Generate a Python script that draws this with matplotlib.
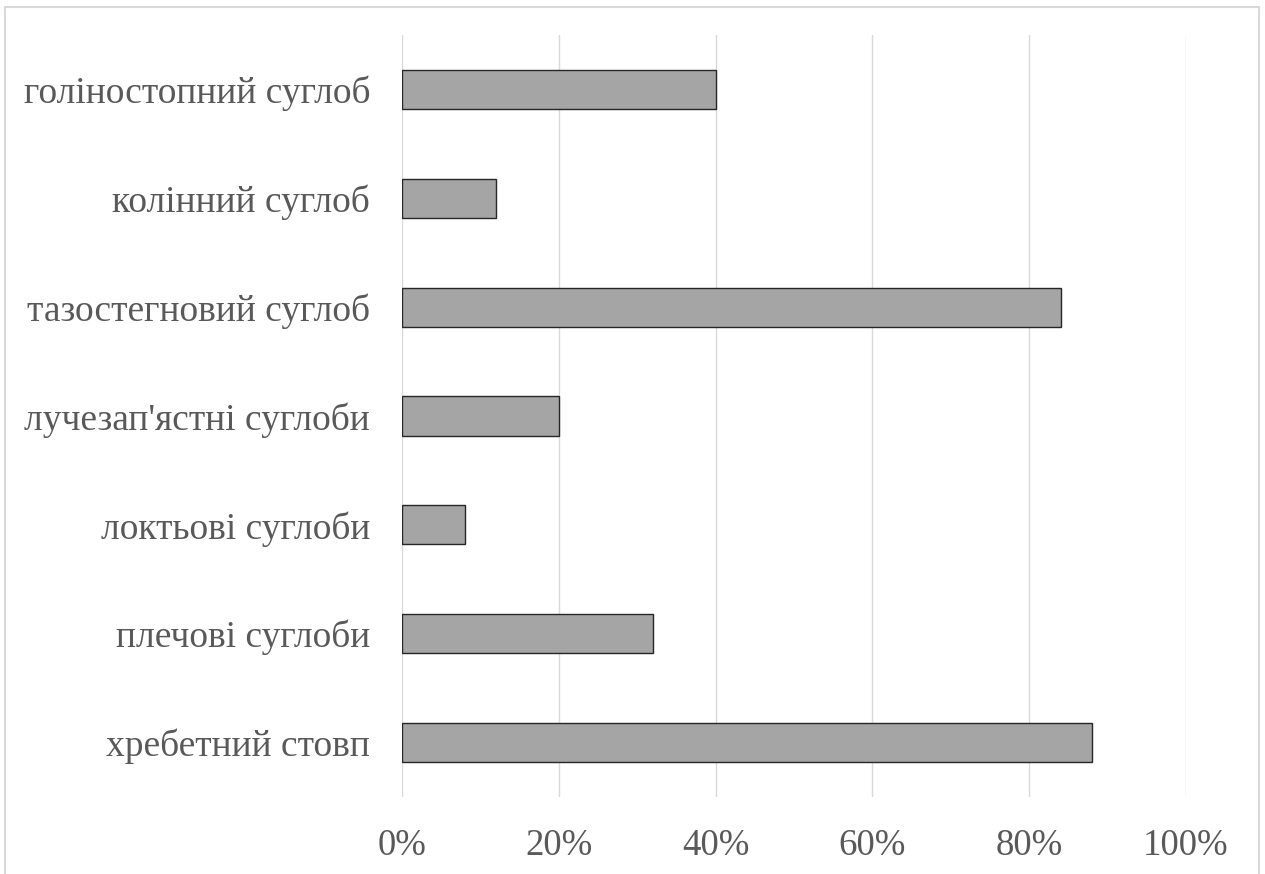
import matplotlib
matplotlib.use("Agg")
import matplotlib.pyplot as plt
from matplotlib.patches import Rectangle
from matplotlib.ticker import FuncFormatter

categories = ["хребетний стовп", "плечові суглоби", "локтьові суглоби",
              "лучезап'ястні суглоби", "тазостегновий суглоб",
              "колінний суглоб", "голіностопний суглоб"]
values = [88, 32, 8, 20, 84, 12, 40]
xticks = [0, 20, 40, 60, 80, 100]

plt.rcParams['font.family'] = ['Liberation Serif', 'DejaVu Serif']

W, H = 1265, 874
fig = plt.figure(figsize=(W / 100, H / 100), dpi=100)
ax = fig.add_axes([402 / W, (H - 797) / H, (1186 - 402) / W, (797 - 35) / H])

ax.barh(range(len(categories)), values, height=0.36, color='#a5a5a5',
        edgecolor='#262626', linewidth=1.0, zorder=3)
ax.set_xlim(0, 100)
ax.set_ylim(-0.5, len(categories) - 0.5)
ax.set_xticks(xticks)
ax.xaxis.set_major_formatter(FuncFormatter(lambda v, p: f"{v:.0f}%"))
ax.set_yticks(range(len(categories)))
ax.set_yticklabels(categories)
ax.grid(axis='x', color='#d9d9d9', linewidth=1.0, zorder=0)
ax.grid(axis='y', visible=False)
for s in ax.spines.values():
    s.set_visible(False)
ax.tick_params(axis='both', length=0, labelcolor='#595959')
ax.tick_params(axis='y', pad=23, labelsize=27)
ax.tick_params(axis='x', pad=23, labelsize=26.5)

fig.patches.append(Rectangle((5 / W, -0.1), (1259 - 5) / W, (H - 7) / H + 0.1,
                             transform=fig.transFigure, fill=False,
                             edgecolor='#d9d9d9', linewidth=1.5))

fig.savefig("out.png", dpi=100)
